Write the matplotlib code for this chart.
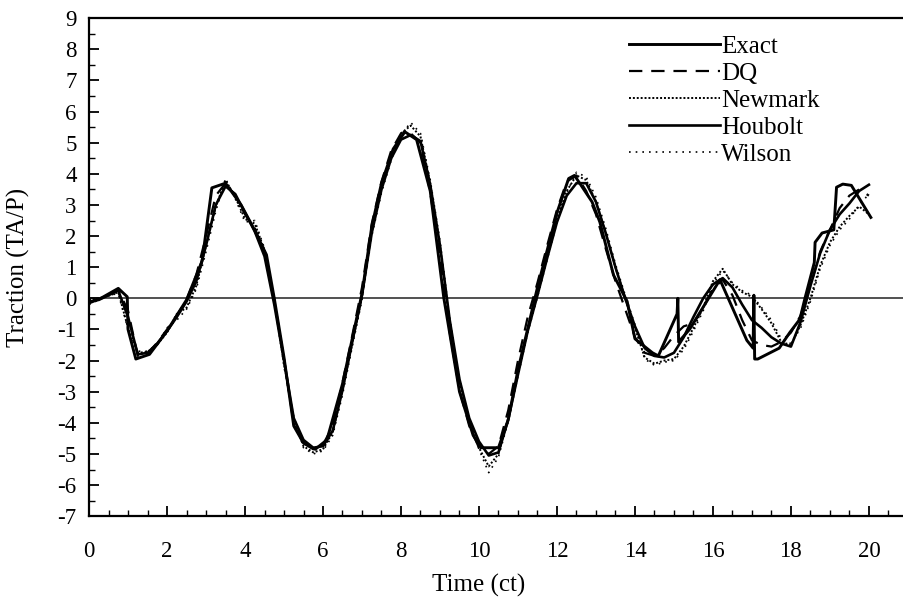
import numpy as np
import matplotlib.pyplot as plt
from matplotlib.ticker import MultipleLocator

plt.rcParams['font.family'] = ['Liberation Serif', 'DejaVu Serif']
plt.rcParams['font.size'] = 18
plt.rcParams['axes.unicode_minus'] = False

# time grid of the numerical solutions (step 0.25 ct)
t_num = np.arange(0, 20.01, 0.25)

# Exact solution (piecewise linear, own breakpoints)
t_exact = [0.0, 0.3, 0.75, 0.98, 1.0, 1.2, 1.55, 2.0, 2.5, 2.9, 3.15, 3.5, 3.9, 4.2,
           4.55, 4.75, 5.0, 5.25, 5.5, 5.8, 6.1, 6.5, 7.0, 7.25, 7.5, 7.8, 8.1, 8.4,
           8.75, 9.1, 9.5, 9.85, 10.05, 10.5, 10.75, 11.0, 11.5, 12.0, 12.3, 12.45,
           12.9, 13.1, 13.45, 13.8, 14.0, 14.45, 14.6, 15.08, 15.1, 15.12, 15.4,
           16.18, 16.87, 17.03, 17.05, 17.07, 17.15, 17.7, 17.97, 18.23, 18.36,
           18.6, 18.62, 18.8, 19.1, 19.17, 19.33, 19.55, 20.05]
y_exact = [-0.15, 0.0, 0.32, 0.05, -1.0, -1.95, -1.8, -1.05, -0.05, 1.2, 3.55, 3.7, 3.0, 2.3,
           1.4, 0.0, -1.9, -4.1, -4.65, -4.85, -4.55, -2.75, 0.15, 2.3, 3.7, 4.8, 5.35, 5.1,
           3.45, 0.0, -3.0, -4.4, -4.8, -4.8, -3.9, -2.3, 0.35, 2.75, 3.85, 3.95,
           3.1, 2.45, 0.75, -0.1, -1.3, -1.75, -1.85, -0.5, 0.0, -1.4, -1.0,
           0.6, -1.35, -1.6, 0.1, -1.95, -1.95, -1.6, -1.1, -0.67, 0.0,
           1.15, 1.8, 2.1, 2.2, 3.57, 3.67, 3.63, 2.6]

y_dq = [-0.12, -0.02, 0.12, 0.28, -0.40, -1.85, -1.78, -1.42, -1.00, -0.55, -0.05, 0.75,
        2.00, 3.30, 3.70, 3.30, 2.70, 2.25, 1.50, -0.05, -1.95, -4.05, -4.65, -4.85,
        -4.70, -4.10, -2.70, -1.20, 0.35, 2.40, 3.75, 4.75, 5.30, 5.30, 5.00, 3.40,
        1.30, -1.10, -2.95, -4.10, -4.80, -5.00, -4.75, -3.60, -2.00, -0.60, 0.50, 1.70,
        2.85, 3.75, 3.95, 3.45, 2.70, 1.60, 0.55, -0.35, -1.25, -1.75, -1.85, -1.60,
        -1.20, -0.90, -0.80, -0.30, 0.30, 0.60, 0.10, -0.70, -1.35, -1.50, -1.55, -1.40,
        -1.10, -0.55, 0.40, 1.50, 2.20, 2.90, 3.30, 3.50, 3.30]

y_newmark = [-0.05, 0.00, 0.08, 0.20, -0.95, -1.75, -1.72, -1.48, -1.10, -0.50, -0.30, 0.40,
             1.70, 2.95, 3.80, 3.25, 2.55, 2.40, 1.55, -0.10, -2.10, -3.90, -4.75, -4.95,
             -4.85, -4.30, -2.95, -1.45, 0.05, 2.15, 3.55, 4.55, 5.30, 5.55, 5.20, 3.70,
             1.70, -0.80, -2.70, -3.95, -4.80, -5.40, -5.00, -3.85, -2.40, -1.00, 0.15, 1.35,
             2.55, 3.45, 3.95, 3.80, 3.10, 2.10, 1.00, 0.00, -0.95, -1.90, -2.10, -2.00,
             -1.95, -1.55, -0.95, -0.30, 0.55, 0.95, 0.45, 0.20, 0.05, -0.35, -0.80, -1.40,
             -1.50, -0.85, 0.00, 1.05, 1.80, 2.30, 2.65, 2.95, 2.70]

y_houbolt = [-0.10, -0.05, 0.10, 0.25, -0.60, -1.80, -1.75, -1.45, -1.05, -0.60, -0.10, 0.55,
             1.70, 3.00, 3.60, 3.35, 2.75, 2.15, 1.35, -0.20, -2.00, -3.85, -4.55, -4.80,
             -4.75, -4.25, -2.95, -1.40, 0.10, 2.10, 3.50, 4.50, 5.10, 5.25, 5.05, 3.65,
             1.70, -0.70, -2.60, -3.85, -4.60, -5.05, -4.95, -3.90, -2.45, -1.05, 0.10, 1.30,
             2.45, 3.30, 3.70, 3.70, 3.10, 2.10, 1.00, 0.00, -0.90, -1.60, -1.85, -1.90,
             -1.75, -1.25, -0.60, 0.00, 0.45, 0.65, 0.35, -0.20, -0.70, -0.95, -1.25, -1.45,
             -1.55, -0.75, 0.40, 1.45, 2.20, 2.70, 3.05, 3.45, 3.65]

y_wilson = [-0.20, -0.05, 0.10, 0.15, -1.00, -1.70, -1.70, -1.50, -0.95, -0.70, -0.35, 0.30,
            1.50, 2.80, 3.85, 3.20, 2.45, 2.50, 1.60, 0.00, -2.20, -3.80, -4.80, -5.00,
            -4.90, -4.40, -3.10, -1.55, -0.05, 2.00, 3.40, 4.45, 5.25, 5.65, 5.30, 3.80,
            1.85, -0.65, -2.60, -3.90, -4.85, -5.60, -5.10, -3.95, -2.50, -1.10, 0.05, 1.25,
            2.45, 3.40, 4.05, 3.90, 3.25, 2.25, 1.10, 0.10, -0.85, -1.95, -2.15, -2.05,
            -2.00, -1.65, -1.05, -0.40, 0.45, 0.90, 0.50, 0.25, 0.10, -0.30, -0.70, -1.30,
            -1.45, -0.95, -0.10, 0.95, 1.70, 2.20, 2.55, 3.00, 3.35]

fig = plt.figure(figsize=(9.04, 6.08), dpi=100)
ax = fig.add_axes([0.0985, 0.151, 0.9015, 0.819])

ax.axhline(0, color='#222222', lw=1.1, zorder=1)
ax.plot(t_exact, y_exact, color='black', lw=2.1, label='Exact')
ax.plot(t_num, y_dq, color='black', lw=1.6, ls=(0, (6, 4)), label='DQ')
ax.plot(t_num, y_newmark, color='black', lw=1.4, ls=(0, (1, 1)), label='Newmark')
ax.plot(t_num, y_houbolt, color='black', lw=1.9, label='Houbolt')
ax.plot(t_num, y_wilson, color='black', lw=1.2, ls=(0, (1, 3)), label='Wilson')

ax.set_xlim(0, 20.9)
ax.set_ylim(-7, 9)
ax.set_xticks(np.arange(0, 21, 2))
ax.set_yticks(np.arange(-7, 10, 1))
ax.xaxis.set_minor_locator(MultipleLocator(0.5))
ax.yaxis.set_minor_locator(MultipleLocator(0.5))
ax.tick_params(which='major', direction='in', length=7, width=1.3, labelsize=16.5)
ax.tick_params(which='minor', direction='in', length=4, width=1.0)
ax.tick_params(axis='x', which='major', pad=18)
ax.tick_params(axis='y', which='major', pad=9)
ax.tick_params(top=False, right=False, which='both')

for side in ['left', 'bottom', 'top']:
    ax.spines[side].set_linewidth(1.6)
ax.spines['right'].set_visible(False)

ax.set_xlabel('Time (ct)')
ax.xaxis.set_label_coords(10 / 20.9, -0.115)
ax.set_ylabel('Traction (TA/P)')
ax.yaxis.set_label_coords(-0.073, 0.5)

ax.legend(loc='upper left', bbox_to_anchor=(0.647, 0.99), frameon=False,
          handlelength=3.65, handletextpad=0.05, labelspacing=0.18, borderpad=0)

plt.savefig('out.png', dpi=100)
